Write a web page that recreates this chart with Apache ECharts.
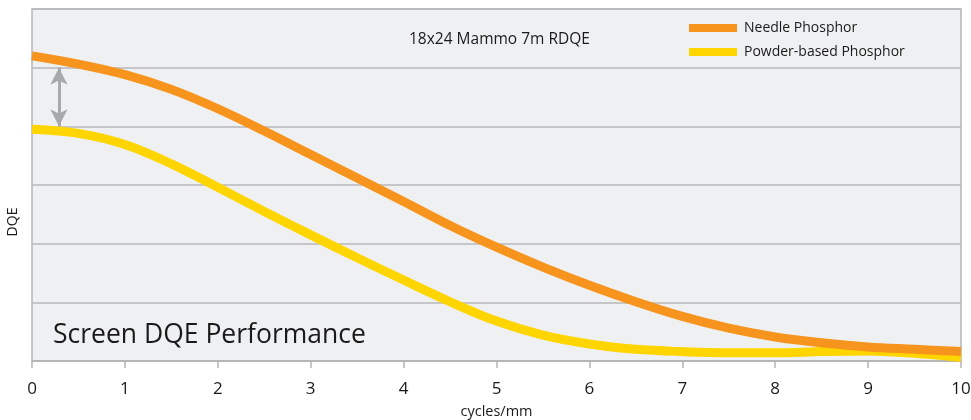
<!DOCTYPE html>
<html>
<head>
<meta charset="utf-8">
<script src="https://cdn.jsdelivr.net/npm/echarts@6/dist/echarts.min.js"></script>
<style>html,body{margin:0;padding:0;background:#fff;}#c{width:971px;height:420px;}</style>
</head>
<body>
<div id="c"></div>
<script>
var xValues = [0,0.5,1,1.5,2,2.5,3,3.5,4,4.5,5,5.5,6,6.5,7,7.5,8,8.5,9,9.5,10];
var needle  = [5.20,5.06,4.88,4.63,4.30,3.92,3.52,3.12,2.72,2.31,1.94,1.60,1.29,1.01,0.76,0.56,0.41,0.31,0.24,0.20,0.16];
var powder  = [3.95,3.88,3.69,3.36,2.96,2.55,2.15,1.76,1.38,1.01,0.68,0.44,0.29,0.20,0.16,0.14,0.14,0.16,0.17,0.13,0.06];
var seriesNames = ['Needle Phosphor','Powder-based Phosphor'];
var xTicks = [0,1,2,3,4,5,6,7,8,9,10];

var font = '"Open Sans", "Noto Sans", sans-serif';
function pairs(ys){ return xValues.map(function(x,i){ return [x, ys[i]]; }); }

var chart = echarts.init(document.getElementById('c'), null, {renderer:'canvas'});
chart.setOption({
  animation: false,
  textStyle: {fontFamily: font},
  grid: {left: 32, right: 10, top: 9, bottom: 59, show: true, backgroundColor: '#eff0f2', borderColor: '#b5b5b7', borderWidth: 1.5, containLabel: false, outerBoundsMode: 'none'},
  title: [
    {text: '18x24 Mammo 7m RDQE', left: 409, top: 32, padding: 0, textStyle: {fontFamily: font, fontSize: 15.5, fontWeight: 'normal', color: '#1a1a1a'}},
    {text: 'Screen DQE Performance', left: 53, top: 322, padding: 0, textStyle: {fontFamily: font, fontSize: 26.5, fontWeight: 'normal', color: '#1a1a1a'}}
  ],
  graphic: [
    {type: 'text', x: 13, y: 222, rotation: Math.PI / 2, style: {text: 'DQE', fontFamily: font, fontSize: 14, fill: '#1a1a1a', textAlign: 'center', textVerticalAlign: 'middle'}}
  ],
  legend: {
    orient: 'vertical', left: 689, top: 21, padding: 0, itemWidth: 48, itemHeight: 8, itemGap: 10, icon: 'rect',
    textStyle: {fontFamily: font, fontSize: 14, color: '#1a1a1a', padding: [0,0,0,2]},
    data: seriesNames
  },
  xAxis: {
    type: 'value', min: 0, max: 10, interval: 1,
    name: 'cycles/mm', nameLocation: 'middle', nameGap: 43,
    nameTextStyle: {fontFamily: font, fontSize: 14.5, color: '#1a1a1a'},
    axisLine: {show: true, lineStyle: {color: '#b5b5b7', width: 1.5}},
    axisTick: {show: true, length: 7, lineStyle: {color: '#b5b5b7', width: 1.5}},
    axisLabel: {fontFamily: font, fontSize: 17, color: '#1a1a1a', margin: 20, formatter: function(v){ return xTicks.indexOf(v) >= 0 ? String(v) : ''; }},
    splitLine: {show: false}
  },
  yAxis: {
    type: 'value', min: 0, max: 6, interval: 1,
    axisLine: {show: false}, axisTick: {show: false}, axisLabel: {show: false},
    splitLine: {show: true, lineStyle: {color: '#b9b9bb', width: 1.5}}
  },
  series: [
    {
      name: seriesNames[0], type: 'line', smooth: 0.35, showSymbol: false, symbol: 'none',
      data: pairs(needle), color: '#f7941d', lineStyle: {width: 9, color: '#f7941d'}, z: 3,
      markLine: {
        silent: true, symbol: ['arrow','arrow'], symbolSize: [13,17],
        label: {show: false},
        lineStyle: {color: '#a7a9ac', width: 3, type: 'solid'},
        data: [[{coord: [0.29, 5]}, {coord: [0.29, 4]}]]
      }
    },
    {
      name: seriesNames[1], type: 'line', smooth: 0.35, showSymbol: false, symbol: 'none',
      data: pairs(powder), color: '#ffd500', lineStyle: {width: 9, color: '#ffd500'}, z: 2
    }
  ]
});
</script>
</body>
</html>
